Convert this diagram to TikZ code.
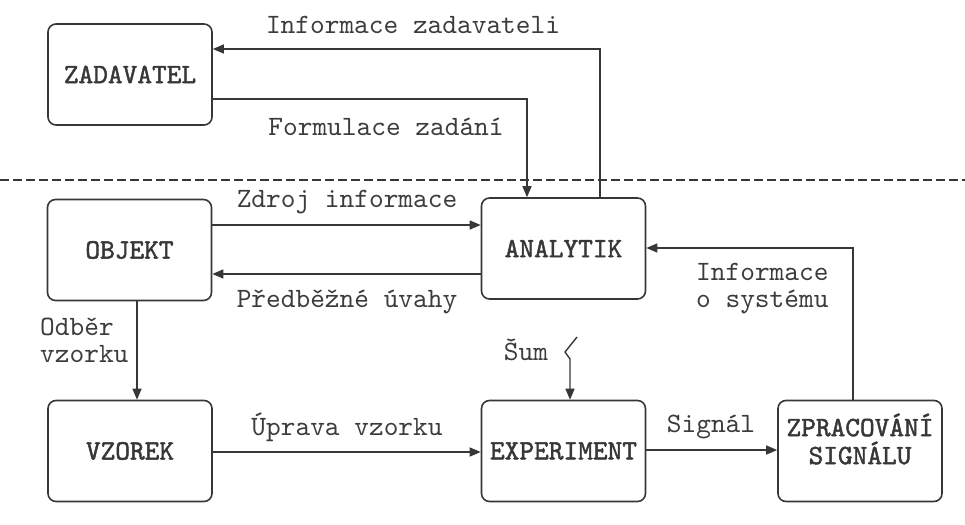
\documentclass[tikz,border=0pt]{standalone}
\usepackage{fontspec}
\newfontfamily\lmmono{lmmono10-regular.otf}
\newfontfamily\lmmonob{lmmono10-regular.otf}[FakeBold=1.6]
\usetikzlibrary{arrows.meta}
\definecolor{ink}{RGB}{55,55,55}
\definecolor{txt}{RGB}{60,60,60}
\newcommand\lblfont{\lmmono\fontsize{28}{27}\selectfont}
\newcommand\boxfont{\lmmonob\fontsize{28}{28}\selectfont}
\begin{document}
\begin{tikzpicture}[x=1pt,y=-1pt,
  box/.style={draw=ink, line width=1.6pt, rounded corners=8pt, minimum width=164pt, minimum height=101pt, inner sep=0pt, font=\boxfont, text=ink, align=center},
  boxtext/.style={font=\boxfont, text=ink, align=center, inner sep=0pt},
  lbl/.style={font=\lblfont, text=txt, inner sep=0pt, align=left},
  conn/.style={draw=ink, line width=1.4pt, -{Triangle[length=11pt,width=9pt]}},
]
\useasboundingbox (0,0) rectangle (965,524);
% dashed separator
\coordinate (dl) at (0,180);
\coordinate (dr) at (965,180);
\draw[ink, line width=1.3pt, dash pattern=on 9pt off 4pt] (dl) -- (dr);
% boxes
\node[box] (zad) at (130,74.5) {ZADAVATEL};
\node[box] (obj) at (129.5,250) {OBJEKT};
\node[box] (ana) at (563.5,248.5) {ANALYTIK};
\node[box] (vzo) at (130,451) {VZOREK};
\node[box] (exp) at (563.5,451) {EXPERIMENT};
\node[box] (zpr) at (860,451) {};
\node[boxtext] (zprt) at (860,439) {ZPRACOVÁNÍ\\SIGNÁLU};
% connectors
\coordinate (iz) at (600,49);
\draw[conn] (ana.north -| iz) -- (iz) -- (zad.east |- iz);
\coordinate (fz) at (527,99);
\draw[conn] (zad.east |- fz) -- (fz) -- (ana.north -| fz);
\coordinate (zy) at (0,225);
\draw[conn] (obj.east |- zy) -- (ana.west |- zy);
\coordinate (pb) at (0,274);
\draw[conn] (ana.west |- pb) -- (obj.east |- pb);
\coordinate (od) at (137,0);
\draw[conn] (obj.south -| od) -- (vzo.north -| od);
\coordinate (uv) at (0,452);
\draw[conn] (vzo.east |- uv) -- (exp.west |- uv);
\coordinate (sg) at (0,450);
\draw[conn] (exp.east |- sg) -- (zpr.west |- sg);
\coordinate (is) at (853,248);
\draw[conn] (zpr.north -| is) -- (is) -- (ana.east |- is);
\coordinate (s1) at (577,337);
\coordinate (s2) at (565,352);
\coordinate (s3) at (570,359);
\draw[conn, line join=miter] (s1) -- (s2) -- (s3) -- (exp.north -| s3);
% labels
\node[lbl] (l1) at (413,25) {Informace zadavateli};
\node[lbl] (l2) at (386,127) {Formulace zadání};
\node[lbl] (l3) at (347,202) {Zdroj informace};
\node[lbl] (l4) at (347,302) {Předběžné úvahy};
\node[lbl, anchor=west] (l5) at (40,340) {Odběr\\vzorku};
\node[lbl] (l6) at (347,427) {Úprava vzorku};
\node[lbl] (l7) at (711,427) {Signál};
\node[lbl, anchor=west] (l8) at (696,289) {Informace\\o systému};
\node[lbl] (l9) at (526,350) {Šum};
\end{tikzpicture}
\end{document}
